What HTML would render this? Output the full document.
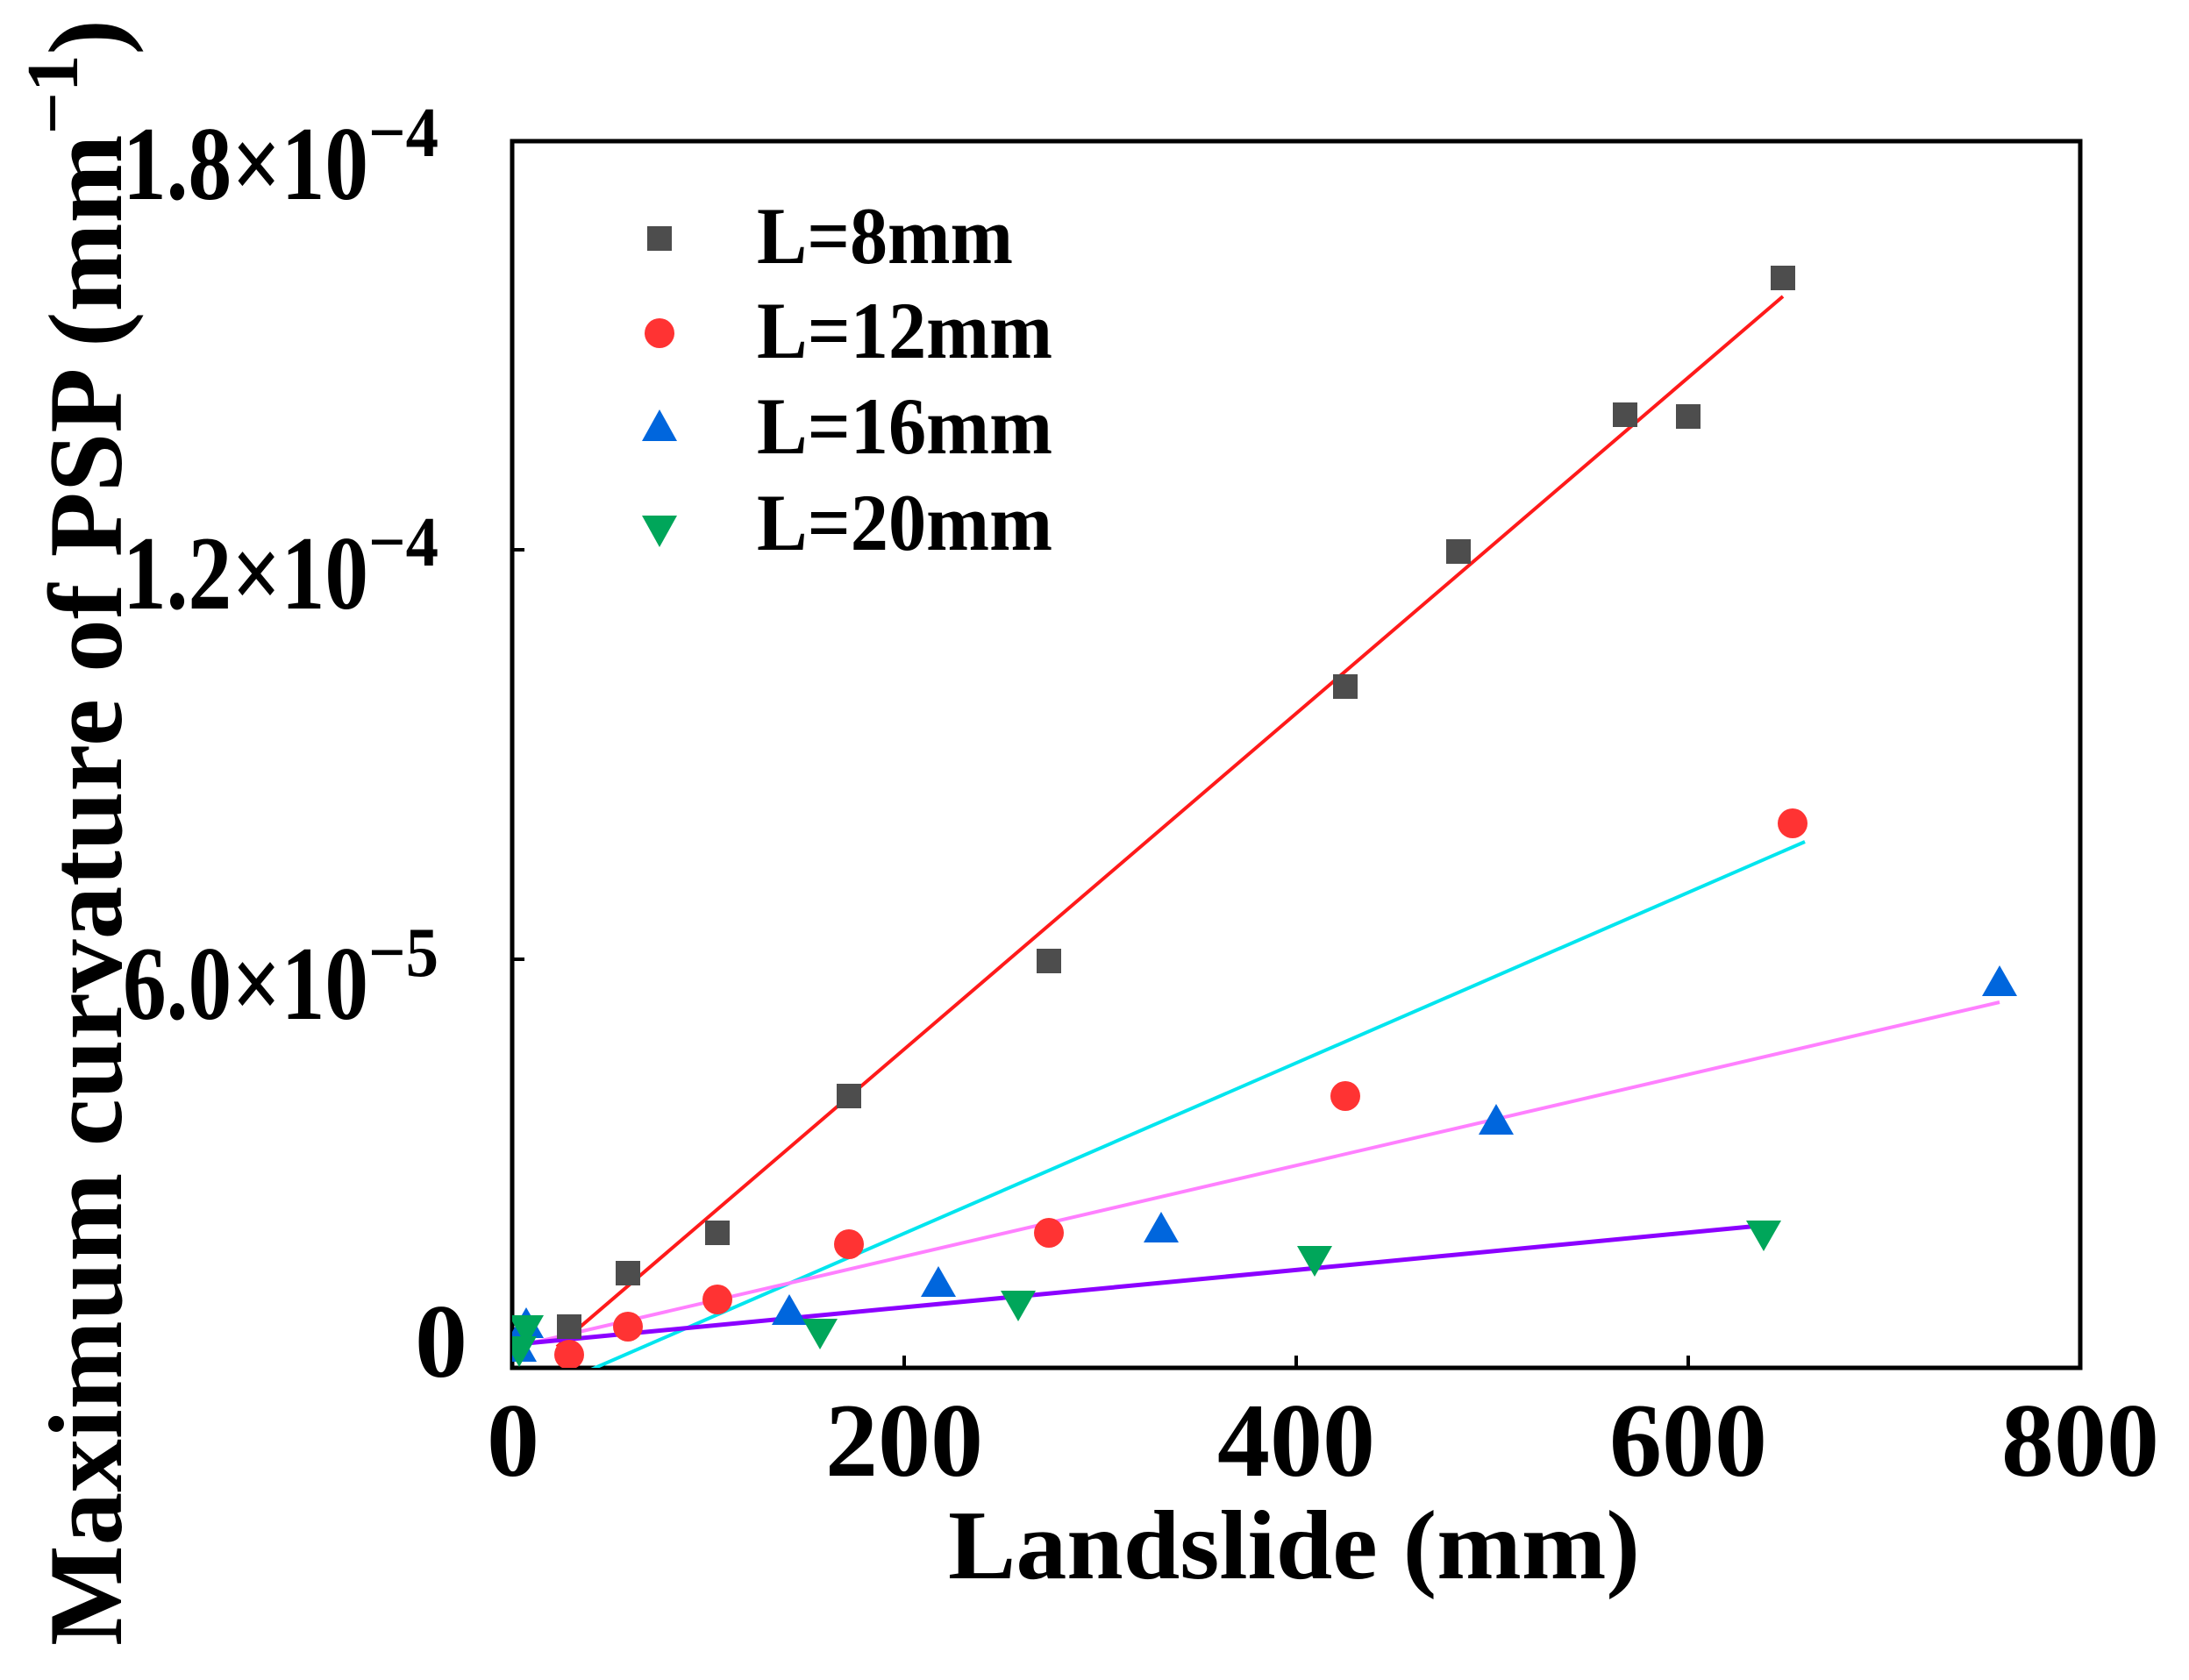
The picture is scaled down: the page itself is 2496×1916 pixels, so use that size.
<!DOCTYPE html>
<html><head><meta charset="utf-8"><style>
html,body{margin:0;padding:0;background:#fff}
svg{display:block}
text{font-family:"Liberation Serif",serif;font-weight:bold;fill:#000}
</style></head><body>
<svg width="2496" height="1916" viewBox="0 0 2496 1916" xmlns="http://www.w3.org/2000/svg">
<defs><clipPath id="c"><rect x="584" y="161" width="1788" height="1399"/></clipPath></defs>
<rect x="584" y="161" width="1788" height="1399" fill="none" stroke="#000" stroke-width="5"/>
<g stroke="#000" stroke-width="4">
<line x1="1031" y1="1560" x2="1031" y2="1546"/><line x1="1478" y1="1560" x2="1478" y2="1546"/><line x1="1925" y1="1560" x2="1925" y2="1546"/>
<line x1="584" y1="1094" x2="598" y2="1094"/><line x1="584" y1="627" x2="598" y2="627"/>
</g>
<g clip-path="url(#c)" stroke-width="4" fill="none">
<line x1="635" y1="1536" x2="2033" y2="338" stroke="#ff1a1a"/>
<line x1="667" y1="1565" x2="2058" y2="960" stroke="#00e5ee"/>
<line x1="587" y1="1536" x2="2280" y2="1143" stroke="#ff80ff"/>
<line x1="590" y1="1533" x2="2006" y2="1398" stroke="#8b00ff" stroke-width="5"/>
</g>
<g clip-path="url(#c)">
<g fill="#4d4d4d">
<rect x="635" y="1499" width="28" height="28"/><rect x="702" y="1438" width="28" height="28"/><rect x="804" y="1392" width="28" height="28"/><rect x="954" y="1236" width="28" height="28"/><rect x="1182" y="1082" width="28" height="28"/><rect x="1520" y="769" width="28" height="28"/><rect x="1649" y="615" width="28" height="28"/><rect x="1839" y="459" width="28" height="28"/><rect x="1911" y="461" width="28" height="28"/><rect x="2019" y="303" width="28" height="28"/>
</g>
<g fill="#ff3333">
<circle cx="649" cy="1545" r="17"/><circle cx="716" cy="1513" r="17"/><circle cx="818" cy="1482" r="17"/><circle cx="968" cy="1419" r="17"/><circle cx="1196" cy="1406" r="17"/><circle cx="1534" cy="1250" r="17"/><circle cx="2044" cy="939" r="17"/>
</g>
<g fill="#0066dd">
<path d="M600,1491l20,35h-40z"/><path d="M592,1518l20,35h-40z"/><path d="M900,1476l20,35h-40z"/><path d="M1070,1444l20,35h-40z"/><path d="M1324,1382l20,35h-40z"/><path d="M1706,1259l20,35h-40z"/><path d="M2280,1101l20,35h-40z"/>
</g>
<g fill="#00a65a">
<path d="M600,1535l20,-35h-40z"/><path d="M592,1559l20,-35h-40z"/><path d="M935,1539l20,-35h-40z"/><path d="M1161,1507l20,-35h-40z"/><path d="M1499,1456l20,-35h-40z"/><path d="M2011,1427l20,-35h-40z"/>
</g>
</g>
<rect x="738" y="258" width="28" height="28" fill="#4d4d4d"/>
<circle cx="752" cy="380" r="17" fill="#ff3333"/>
<path d="M752,467l20,36h-40z" fill="#0066dd"/>
<path d="M752,624l20,-36h-40z" fill="#00a65a"/>
<g font-size="92">
<text x="863" y="300" textLength="292" lengthAdjust="spacingAndGlyphs">L=8mm</text>
<text x="863" y="408" textLength="337" lengthAdjust="spacingAndGlyphs">L=12mm</text>
<text x="863" y="517" textLength="337" lengthAdjust="spacingAndGlyphs">L=16mm</text>
<text x="863" y="627" textLength="337" lengthAdjust="spacingAndGlyphs">L=20mm</text>
</g>
<g font-size="120">
<text x="140" y="227" textLength="280" lengthAdjust="spacingAndGlyphs">1.8×10</text>
<text x="420" y="178" font-size="80" textLength="80" lengthAdjust="spacingAndGlyphs">−4</text>
<text x="140" y="694" textLength="280" lengthAdjust="spacingAndGlyphs">1.2×10</text>
<text x="420" y="645" font-size="80" textLength="80" lengthAdjust="spacingAndGlyphs">−4</text>
<text x="140" y="1162" textLength="280" lengthAdjust="spacingAndGlyphs">6.0×10</text>
<text x="420" y="1113" font-size="80" textLength="80" lengthAdjust="spacingAndGlyphs">−5</text>
<text x="533" y="1570" text-anchor="end">0</text>
</g>
<g font-size="120" text-anchor="middle">
<text x="585" y="1683">0</text><text x="1031" y="1683">200</text><text x="1478" y="1683">400</text><text x="1925" y="1683">600</text><text x="2372" y="1683">800</text>
</g>
<text x="1081" y="1800" font-size="112" textLength="789" lengthAdjust="spacingAndGlyphs">Landslide (mm)</text>
<text transform="translate(138,1877) rotate(-90)" font-size="120" textLength="1855" lengthAdjust="spacingAndGlyphs">Maximum curvature of PSP (mm<tspan font-size="84" dy="-50">−1</tspan><tspan dy="50">)</tspan></text>
</svg>
</body></html>
